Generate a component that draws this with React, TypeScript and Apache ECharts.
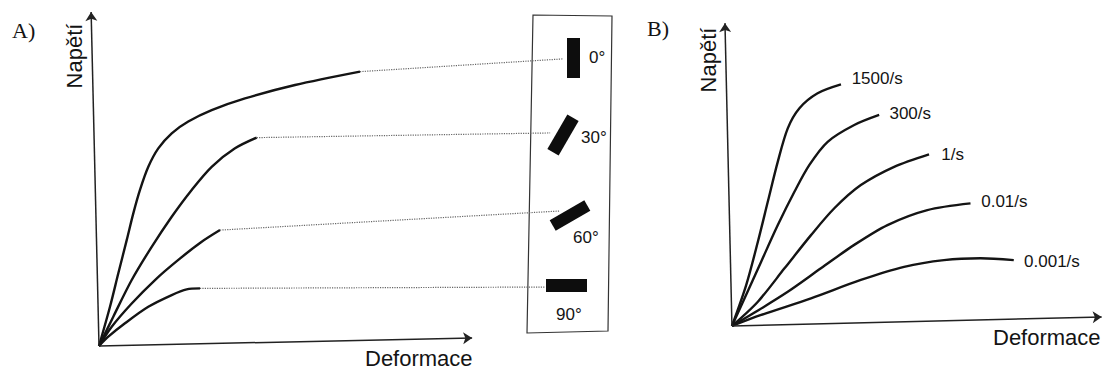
import { useEffect, useRef } from "react";
import * as echarts from "echarts";

// ---------- Panel A: Napětí vs Deformace for different orientations ----------
const orientLabels = ["0°", "30°", "60°", "90°"];
const curveA0 = [[0, 0], [2.93, 11.7], [5.15, 21.7], [7.39, 31.6], [9.15, 39.6], [10.93, 46.6], [13.15, 53.5], [15.81, 59.0], [19.39, 63.5], [23.81, 67.0], [30.05, 70.4], [38.93, 73.9], [52.27, 77.9], [69.6, 81.9]];
const curveA30 = [[0, 0], [3.81, 8.75], [8.72, 19.7], [14.05, 29.6], [19.39, 38.6], [24.72, 46.6], [30.05, 53.5], [36.27, 59.0], [42.05, 62.2]];
const curveA60 = [[0, 0], [3.39, 5.76], [8.72, 12.7], [14.93, 19.7], [21.15, 25.7], [27.39, 31.1], [32.27, 34.6]];
const curveA90 = [[0, 0], [2.48, 2.78], [6.93, 6.78], [13.15, 11.7], [19.39, 15.2], [23.39, 16.9], [26.93, 17.2]];
const leaderA0 = [[69.6, 81.9], [123.7, 85.7]];
const leaderA30 = [[42.05, 62.2], [120.3, 63.6]];
const leaderA60 = [[32.27, 34.6], [122.9, 40.3]];
const leaderA90 = [[26.93, 17.2], [118.9, 17.6]];
const axisAOrigin = [0, 0];
const axisAXEnd = [99.5, 2.4];
const axisAYEnd = [-2.1, 99.7];

// ---------- Panel B: Napětí vs Deformace for different strain rates ----------
const rateLabels = ["1500/s", "300/s", "1/s", "0.01/s", "0.001/s"];
const curveB1500 = [[0, 0], [3.84, 13.4], [6.99, 27.6], [9.68, 40.8], [12.37, 53.9], [15.05, 64.8], [18.2, 71.4], [23.1, 76.3], [29.4, 79.2]];
const curveB300 = [[0, 0], [3.41, 9.08], [7.88, 21.1], [12.37, 33.1], [16.85, 44.0], [20.89, 52.8], [25.81, 60.4], [32.98, 65.9], [39.7, 69.2]];
const curveB1 = [[0, 0], [6.99, 7.97], [14.17, 18.9], [21.32, 29.8], [27.61, 38.6], [34.76, 46.2], [43.74, 52.2], [53.15, 56.3]];
const curveB001 = [[0, 0], [6.1, 4.4], [15.05, 11.2], [24.0, 18.9], [32.98, 26.6], [41.94, 33.1], [52.69, 38.0], [64.33, 40.2]];
const curveB0001 = [[0, 0], [7.88, 3.61], [21.32, 9.08], [34.76, 15.1], [46.42, 19.4], [57.18, 21.6], [67.02, 22.2], [76.0, 21.6]];
const axisBOrigin = [0, 0];
const axisBXEnd = [99.7, 2.95];
const axisBYEnd = [-1.88, 99.3];

const axisTitleX = "Deformace";
const axisTitleY = "Napětí";
const panelTitles = ["A)", "B)"];

// ---------- layout (pixels) ----------
const LA = { ox: 99, oy: 346, sx: 3.75, sy: 3.35, xmin: -5, xmax: 140, ymin: -3, ymax: 102 };
const LB = { ox: 732, oy: 326, sx: 3.72, sy: 3.05, xmin: -5, xmax: 100.6, ymin: -3, ymax: 102 };
const gridOf = (p: typeof LA) => ({
  left: p.ox + p.xmin * p.sx,
  top: p.oy - p.ymax * p.sy,
  width: (p.xmax - p.xmin) * p.sx,
  height: (p.ymax - p.ymin) * p.sy,
});

const SANS = '"Liberation Sans", Arial, Helvetica, sans-serif';
const SERIF = '"Liberation Serif", "Times New Roman", serif';
const INK = "#141414";

const curveStyle = { color: INK, width: 2.4 };
const leaderStyle = { color: "#666", width: 1.2, type: "dotted" as const };

function curve(data: number[][], axis: number, extra: any = {}) {
  return {
    type: "line",
    xAxisIndex: axis,
    yAxisIndex: axis,
    data,
    symbol: "none",
    smooth: 0.3,
    lineStyle: curveStyle,
    silent: true,
    ...extra,
  };
}

function axesMark(origin: number[], xEnd: number[], yEnd: number[]) {
  return {
    silent: true,
    symbol: ["none", "arrow"],
    symbolSize: 9,
    label: { show: false },
    lineStyle: { color: "#222", width: 1.5, type: "solid" },
    emphasis: { disabled: true },
    data: [
      [{ coord: origin }, { coord: xEnd }],
      [{ coord: origin }, { coord: yEnd }],
    ],
  };
}

const rateOffsets = [[10.7, -6], [10.3, -1.5], [12.3, 0], [10.7, -1.8], [10.3, 1.5]];
const bCurves = [curveB1500, curveB300, curveB1, curveB001, curveB0001];
const aCurves = [curveA0, curveA30, curveA60, curveA90];
const aLeaders = [leaderA0, leaderA30, leaderA60, leaderA90];

// decorative specimen bars inside the box of panel A
const bars = [
  { x: 573.5, y: 58, w: 13, h: 40, rot: 0 },
  { x: 563, y: 135, w: 13, h: 40, rot: -Math.PI / 6 },
  { x: 570, y: 215.5, w: 12, h: 40, rot: -Math.PI / 3 },
  { x: 566.5, y: 285.5, w: 41, h: 13, rot: 0 },
];
const barLabelPos = [[589, 57], [581, 137.5], [573, 237.5], [556, 314]];

function buildOption() {
  const series: any[] = [];
  aCurves.forEach((d, i) => {
    series.push(
      curve(d, 0, {
        name: orientLabels[i],
        markLine: i === 0 ? axesMark(axisAOrigin, axisAXEnd, axisAYEnd) : undefined,
      })
    );
  });
  aLeaders.forEach((d, i) => {
    series.push({
      type: "line",
      name: orientLabels[i] + " leader",
      xAxisIndex: 0,
      yAxisIndex: 0,
      data: d,
      symbol: "none",
      lineStyle: leaderStyle,
      silent: true,
    });
  });
  bCurves.forEach((d, i) => {
    series.push(
      curve(d, 1, {
        name: rateLabels[i],
        markLine: i === 0 ? axesMark(axisBOrigin, axisBXEnd, axisBYEnd) : undefined,
        endLabel: {
          show: true,
          formatter: rateLabels[i],
          color: INK,
          fontSize: 17,
          fontFamily: SANS,
          distance: 0,
          offset: rateOffsets[i],
        },
      })
    );
  });

  const graphic: any[] = [
    {
      type: "polygon",
      shape: { points: [[533, 15], [612, 16], [608, 331], [527, 333]] },
      style: { fill: "none", stroke: "#333", lineWidth: 1.2 },
      silent: true,
    },
    ...bars.map((b) => ({
      type: "rect",
      x: b.x,
      y: b.y,
      rotation: b.rot,
      shape: { x: -b.w / 2, y: -b.h / 2, width: b.w, height: b.h },
      style: { fill: "#0d0d0d" },
      silent: true,
    })),
    ...orientLabels.map((t, i) => ({
      type: "text",
      x: barLabelPos[i][0],
      y: barLabelPos[i][1],
      style: { text: t, fontSize: 17, fontFamily: SANS, fill: INK, align: "left", verticalAlign: "middle" },
      silent: true,
    })),
    {
      type: "text", x: 12, y: 30,
      style: { text: panelTitles[0], fontSize: 22, fontFamily: SERIF, fill: INK, align: "left", verticalAlign: "middle" },
    },
    {
      type: "text", x: 647, y: 28,
      style: { text: panelTitles[1], fontSize: 22, fontFamily: SERIF, fill: INK, align: "left", verticalAlign: "middle" },
    },
    {
      type: "text", x: 74, y: 56, rotation: Math.PI / 2,
      style: { text: axisTitleY, fontSize: 22, fontFamily: SANS, fill: INK, align: "center", verticalAlign: "middle" },
    },
    {
      type: "text", x: 708, y: 60, rotation: Math.PI / 2,
      style: { text: axisTitleY, fontSize: 22, fontFamily: SANS, fill: INK, align: "center", verticalAlign: "middle" },
    },
    {
      type: "text", x: 365, y: 358,
      style: { text: axisTitleX, fontSize: 22, fontFamily: SANS, fill: INK, align: "left", verticalAlign: "middle" },
    },
    {
      type: "text", x: 993, y: 337,
      style: { text: axisTitleX, fontSize: 22, fontFamily: SANS, fill: INK, align: "left", verticalAlign: "middle" },
    },
  ];

  return {
    animation: false,
    backgroundColor: "#ffffff",
    grid: [gridOf(LA), gridOf(LB)],
    xAxis: [
      { type: "value", gridIndex: 0, min: LA.xmin, max: LA.xmax, show: false },
      { type: "value", gridIndex: 1, min: LB.xmin, max: LB.xmax, show: false },
    ],
    yAxis: [
      { type: "value", gridIndex: 0, min: LA.ymin, max: LA.ymax, show: false },
      { type: "value", gridIndex: 1, min: LB.ymin, max: LB.ymax, show: false },
    ],
    series,
    graphic,
  };
}

export default function App() {
  const ref = useRef<HTMLDivElement>(null);
  useEffect(() => {
    const chart = echarts.init(ref.current!, null, { renderer: "svg" });
    chart.setOption(buildOption() as any);
    return () => chart.dispose();
  }, []);
  return (
    <div
      ref={ref}
      style={{ position: "fixed", left: 0, top: 0, width: 1105, height: 370, background: "#fff" }}
    />
  );
}
